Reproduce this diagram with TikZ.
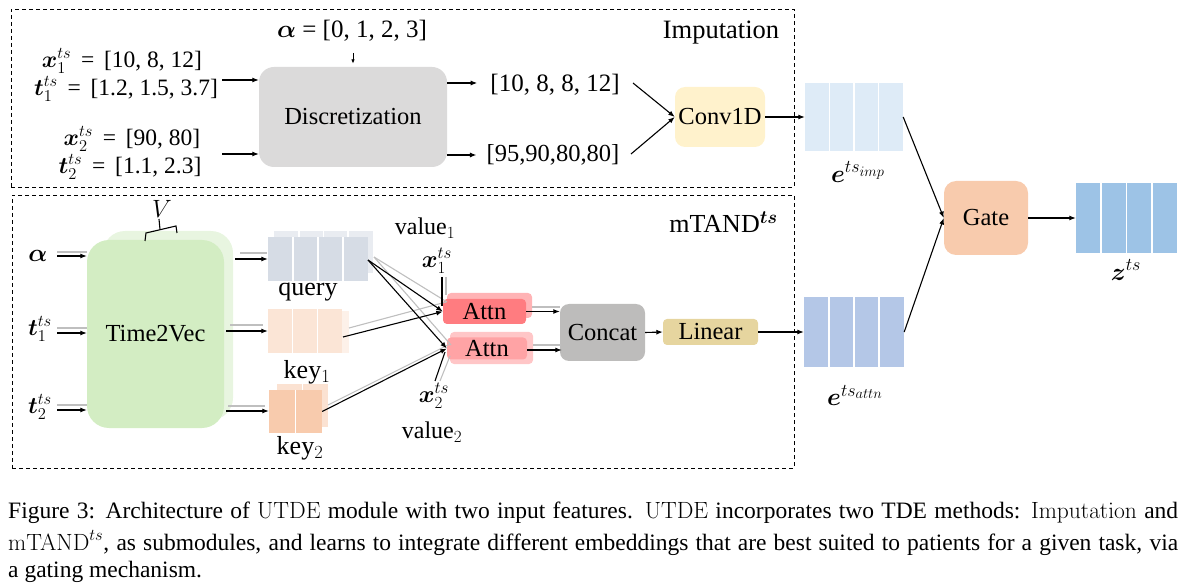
\documentclass[tikz,border=0pt]{standalone}
\usepackage{fix-cm}
\usepackage{amsmath}
\usepackage{bm}
\usepackage[no-math]{fontspec}
\setmainfont{Liberation Serif}
\usetikzlibrary{arrows.meta,calc,fit}
\DeclareMathSizes{23.5}{23.5}{16.5}{13}
\DeclareMathSizes{24}{24}{17}{13.5}
\DeclareMathSizes{25}{25}{18}{14.5}
\DeclareMathSizes{26}{26}{18.5}{15}
\definecolor{discgray}{HTML}{DBDADA}
\definecolor{convy}{HTML}{FFF2CC}
\definecolor{eimpc}{HTML}{DEEBF7}
\definecolor{eattnc}{HTML}{B4C7E7}
\definecolor{zc}{HTML}{9DC3E6}
\definecolor{gatec}{HTML}{F8CBAD}
\definecolor{tvfront}{HTML}{D3EDC3}
\definecolor{tvback}{HTML}{E8F5E0}
\definecolor{qfront}{HTML}{D6DCE5}
\definecolor{qback}{HTML}{E9ECF1}
\definecolor{kafront}{HTML}{FBE5D6}
\definecolor{kaback}{HTML}{FDF1E9}
\definecolor{kbfront}{HTML}{F8CBAD}
\definecolor{kbback}{HTML}{FBE2D2}
\definecolor{atafront}{HTML}{FF7C80}
\definecolor{ataback}{HTML}{FFB3B5}
\definecolor{atbfront}{HTML}{FFA3A5}
\definecolor{atbback}{HTML}{FFC6C7}
\definecolor{concatc}{HTML}{BDBCBB}
\definecolor{linc}{HTML}{E6D59F}
\newcommand{\cellvec}[7]{%
  \node[fit={(#2,#3) (#4,#5)}, inner sep=0pt, fill=#7] (#1) {};
  \pgfmathtruncatemacro\nmcells{#6-1}%
  \foreach \ci in {1,...,\nmcells}{%
    \pgfmathsetmacro\xcell{#2+\ci*(#4-#2)/#6}%
    \draw[white, line width=1.6pt] (\xcell,#3) -- (\xcell,#5);
  }%
}
\begin{document}
\begin{tikzpicture}[x=1pt,y=-1pt,
  arr/.style={-{Latex[length=6.5pt,width=5pt]}, line width=1.1pt},
  smallarr/.style={-{Latex[length=4.5pt,width=3.5pt]}, line width=0.9pt},
  shd/.style={black!25, line width=1.1pt},
  dbox/.style={draw, line width=0.9pt, dash pattern=on 4pt off 3pt, inner sep=0pt},
  txt/.style={inner sep=0pt, font=\fontsize{24.5}{29}\selectfont},
  mlbl/.style={inner sep=0pt, font=\fontsize{25}{30}\selectfont},
  slbl/.style={inner sep=0pt, font=\fontsize{23.5}{28}\selectfont},
  vlbl/.style={inner sep=0pt, font=\fontsize{24}{28}\selectfont},
  wlbl/.style={inner sep=0pt, font=\fontsize{26}{31}\selectfont},
  blk/.style={inner sep=0pt, font=\fontsize{24.5}{29}\selectfont},
  captext/.style={inner sep=0pt, anchor=west, font=\fontsize{23.5}{28}\selectfont}]
\useasboundingbox (0,0) rectangle (1181,585);

% dashed group boxes
\node[dbox, minimum width=783pt, minimum height=178pt] (impbox) at (402.5,98) {};
\node[dbox, minimum width=782pt, minimum height=273pt] (attnbox) at (403,331.5) {};
\node[txt, font=\fontsize{26.5}{31}\selectfont] (imptitle) at (721,33) {Imputation};
\node[wlbl, anchor=east] (mtandtitle) at (778,222) {mTAND$^{\bm{ts}}$};

% ---------- Imputation part ----------
\node[blk, fill=discgray, rounded corners=15pt, minimum width=188pt, minimum height=100pt] (disc) at (353,117) {Discretization};
\node[mlbl] (alpha1) at (352,31) {$\bm{\alpha}$ = [0, 1, 2, 3]};
\node[slbl] (x1) at (122,61) {$\bm{x}_1^{ts}$ \,=\, [10, 8, 12]};
\node[slbl] (t1) at (126,89) {$\bm{t}_1^{ts}$ \,=\, [1.2, 1.5, 3.7]};
\node[slbl] (x2) at (132,139) {$\bm{x}_2^{ts}$ \,=\, [90, 80]};
\node[slbl] (t2) at (130,167) {$\bm{t}_2^{ts}$ \,=\, [1.1, 2.3]};
\node[mlbl] (out1) at (555,85) {[10, 8, 8, 12]};
\node[txt] (out2) at (553,155) {[95,90,80,80]};
\node[blk, fill=convy, rounded corners=10pt, minimum width=90pt, minimum height=60pt] (conv) at (720,117) {Conv1D};

\coordinate (in1s) at (222,80);
\coordinate (in2s) at (222,154);
\draw[arr] (in1s) -- (in1s -| disc.west);
\draw[arr] (in2s) -- (in2s -| disc.west);
\draw[smallarr] ($(disc.north)+(0,-14)$) -- ($(disc.north)+(0,-3)$);
\coordinate (d1) at (447,83);
\draw[arr, shorten >=13pt] (d1) -- (d1 -| out1.west);
\draw[arr, shorten >=10pt] (disc.east |- out2) -- (out2.west);
\coordinate (o1e) at (633,83);
\coordinate (o2e) at (631,154);
\draw[arr] (o1e) -- (conv.west);
\draw[arr] (o2e) -- (conv.west);

% ---------- embeddings & gate ----------
\cellvec{eimp}{805}{83}{903}{151}{4}{eimpc}
\cellvec{eattn}{804}{297}{904}{367}{4}{eattnc}
\cellvec{zts}{1076}{183}{1177}{253}{4}{zc}
\node[mlbl] (eimplbl) at (858,172) {$\bm{e}^{ts_{imp}}$};
\node[mlbl] (eattnlbl) at (855,395) {$\bm{e}^{ts_{attn}}$};
\node[mlbl] (zlbl) at (1126,270) {$\bm{z}^{ts}$};
\node[blk, fill=gatec, rounded corners=12pt, minimum width=84pt, minimum height=74pt] (gate) at (986,218) {Gate};
\draw[arr] (conv.east) -- (eimp.west);
\draw[arr] (eimp.east) -- (gate.west);
\draw[arr] (eattn.east) -- (gate.west);
\draw[arr] (gate.east) -- (zts.west);

% ---------- mTAND part ----------
\node[fill=tvback, rounded corners=22pt, minimum width=130pt, minimum height=189pt, inner sep=0pt] (tvb) at (168,325.5) {};
\node[blk, fill=tvfront, rounded corners=22pt, minimum width=137pt, minimum height=188pt] (tv) at (155.5,334) {Time2Vec};
% bracket V
\draw[line width=1.1pt] (145,241) -- (146,233) -- (176,226) -- (177,233);
\draw[line width=1.1pt] (160,229.5) -- (159,219);
\node[mlbl] (vlabel) at (162,209) {$V$};

\node[mlbl] (alpha2) at (38,256) {$\bm{\alpha}$};
\node[slbl] (t1b) at (40,329) {$\bm{t}_1^{ts}$};
\node[slbl] (t2b) at (40,407) {$\bm{t}_2^{ts}$};
\coordinate (ia) at (57,256);
\coordinate (ib) at (57,333);
\coordinate (ic) at (57,410);
\draw[shd] ($(ia)+(0,-4)$) -- ($(ia -| tv.west)+(0,-4)$);
\draw[shd] ($(ib)+(0,-5)$) -- ($(ib -| tv.west)+(0,-5)$);
\draw[shd] ($(ic)+(0,-5)$) -- ($(ic -| tv.west)+(0,-5)$);
\draw[arr] (ia) -- (ia -| tv.west);
\draw[arr] (ib) -- (ib -| tv.west);
\draw[arr] (ic) -- (ic -| tv.west);

% query / keys
\cellvec{qb}{274}{231}{373}{273}{4}{qback}
\cellvec{query}{268}{237}{368}{281}{4}{qfront}
\cellvec{k1b}{275}{311}{349}{353}{3}{kaback}
\cellvec{key1}{268}{309}{342}{353}{3}{kafront}
\cellvec{k2b}{277}{384}{328}{427}{2}{kbback}
\cellvec{key2}{269}{390}{322}{433}{2}{kbfront}
\node[wlbl] (qlbl) at (308,292) {query};
\node[wlbl] (k1lbl) at (307,372) {key$_1$};
\node[wlbl] (k2lbl) at (300,448) {key$_2$};

\coordinate (oq) at (235,259);
\coordinate (ok1) at (226,331);
\coordinate (ok2) at (226,411);
\draw[shd] (240,253) -- (267,253);
\draw[shd] (230,325) -- (263,325);
\draw[shd] (228,406) -- (265,406);
\draw[arr] (oq) -- (oq -| query.west);
\draw[arr] (ok1) -- (ok1 -| key1.west);
\draw[arr] (ok2) -- (ok2 -| key2.west);

% attention blocks
\node[fill=ataback, rounded corners=4pt, minimum width=85pt, minimum height=25pt, inner sep=0pt] (a1b) at (489.5,305.5) {};
\node[blk, fill=atafront, rounded corners=4pt, minimum width=83pt, minimum height=25pt] (attn1) at (484.5,311.5) {Attn};
\node[fill=atbback, rounded corners=4pt, minimum width=83pt, minimum height=32pt, inner sep=0pt] (a2b) at (491.5,348) {};
\node[blk, fill=atbfront, rounded corners=4pt, minimum width=80pt, minimum height=22pt] (attn2) at (487,348.5) {Attn};
\node[vlbl] (v1lbl) at (425,228) {value$_1$};
\node[vlbl] (x1b) at (437,261) {$\bm{x}_1^{ts}$};
\node[vlbl] (x2b) at (434,396) {$\bm{x}_2^{ts}$};
\node[vlbl] (v2lbl) at (432,432) {value$_2$};

% gray shadow connectors
\draw[shd] (374,257) -- (447,302);
\draw[shd] (374,257) -- (451,345);
\draw[shd] (349,328) -- (446,302);
\draw[shd] (328,405) -- (450,344);
\draw[shd] (446,277) -- (446,295);
\draw[shd] (440,381) -- (450,356);
% black connectors
\coordinate (qe) at (368,260);
\coordinate (k1e) at (343,337);
\draw[arr] (qe) -- (attn1.west);
\draw[arr] (qe) -- (attn2.west);
\draw[arr] (k1e) -- (attn1.west);
\draw[arr] (key2.east) -- (attn2.west);
\draw[line width=1.1pt] (442,277) -- (442,306);
\draw[line width=1.1pt] (435,381) -- (445,352);

% concat / linear
\node[blk, fill=concatc, rounded corners=9pt, minimum width=85pt, minimum height=57pt] (concat) at (602.5,332.5) {Concat};
\node[blk, fill=linc, rounded corners=4pt, minimum width=95pt, minimum height=26pt] (linear) at (710.5,332) {Linear};
\draw[shd] (532,307) -- (560,307);
\draw[shd] (533,345) -- (561,345);
\coordinate (a2e) at (527,350);
\draw[arr] (attn1.east) -- (attn1.east -| concat.west);
\draw[arr] (a2e) -- ($(a2e -| concat.west)+(2,0)$);
\draw[arr] (concat.east) -- (linear.west);
\draw[arr] (linear.east) -- (eattn.west);

% caption
\node[captext] (cap1) at (8,513) {\makebox[1170pt][s]{Figure 3: Architecture of $\mathrm{UTDE}$ module with two input features. $\mathrm{UTDE}$ incorporates two TDE methods: $\mathrm{Imputation}$ and}};
\node[captext] (cap2) at (8,543) {\makebox[1170pt][s]{$\mathrm{mTAND}^{ts}$, as submodules, and learns to integrate different embeddings that are best suited to patients for a given task, via}};
\node[captext] (cap3) at (8,572) {a gating mechanism.};
\end{tikzpicture}
\end{document}
